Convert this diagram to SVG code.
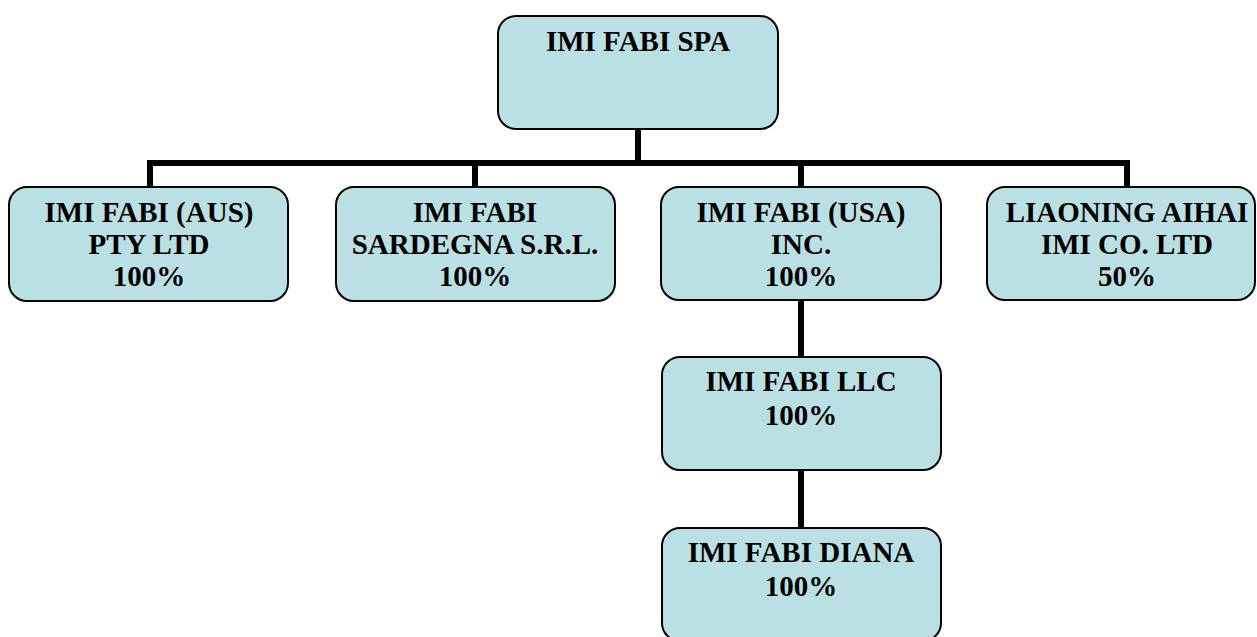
<svg xmlns="http://www.w3.org/2000/svg" width="1257" height="637" viewBox="0 0 1257 637">
<style>
.box{fill:#BBE0E3;stroke:#000;stroke-width:2}
.t{font-family:"Liberation Serif","Times New Roman",serif;font-weight:bold;font-size:29px;text-anchor:middle;fill:#000}
.c{fill:none;stroke:#000;stroke-width:6;stroke-linejoin:miter;stroke-linecap:butt}
</style>
<rect width="1257" height="637" fill="#fff"/>
<g id="connectors">
<path class="c" d="M638 129V163"/>
<path class="c" d="M150 187V163H1127V187"/>
<path class="c" d="M475 163V187"/>
<path class="c" d="M801 163V187"/>
<path class="c" d="M801 300V357"/>
<path class="c" d="M801 470V528"/>
</g>
<g id="spa">
<rect class="box" x="498" y="16" width="280" height="113" rx="18"/>
<text class="t" x="638" y="51">IMI FABI SPA</text>
</g>
<g id="aus">
<rect class="box" x="9" y="187" width="279" height="114" rx="18"/>
<text class="t" x="149" y="222">IMI FABI (AUS)</text>
<text class="t" x="149" y="254">PTY LTD</text>
<text class="t" x="149" y="286">100%</text>
</g>
<g id="sardegna">
<rect class="box" x="336" y="187" width="279" height="114" rx="18"/>
<text class="t" x="475" y="222">IMI FABI</text>
<text class="t" x="475" y="254">SARDEGNA S.R.L.</text>
<text class="t" x="475" y="286">100%</text>
</g>
<g id="usa">
<rect class="box" x="661" y="187" width="280" height="113" rx="18"/>
<text class="t" x="801" y="222">IMI FABI (USA)</text>
<text class="t" x="801" y="254">INC.</text>
<text class="t" x="801" y="286">100%</text>
</g>
<g id="liaoning">
<rect class="box" x="987" y="187" width="268" height="113" rx="18"/>
<text class="t" x="1127" y="222">LIAONING AIHAI</text>
<text class="t" x="1127" y="254">IMI CO. LTD</text>
<text class="t" x="1127" y="286">50%</text>
</g>
<g id="llc">
<rect class="box" x="662" y="357" width="279" height="113" rx="18"/>
<text class="t" x="801" y="391">IMI FABI LLC</text>
<text class="t" x="801" y="425">100%</text>
</g>
<g id="diana">
<rect class="box" x="662" y="528" width="279" height="113" rx="18"/>
<text class="t" x="801" y="562">IMI FABI DIANA</text>
<text class="t" x="801" y="596">100%</text>
</g>
</svg>
